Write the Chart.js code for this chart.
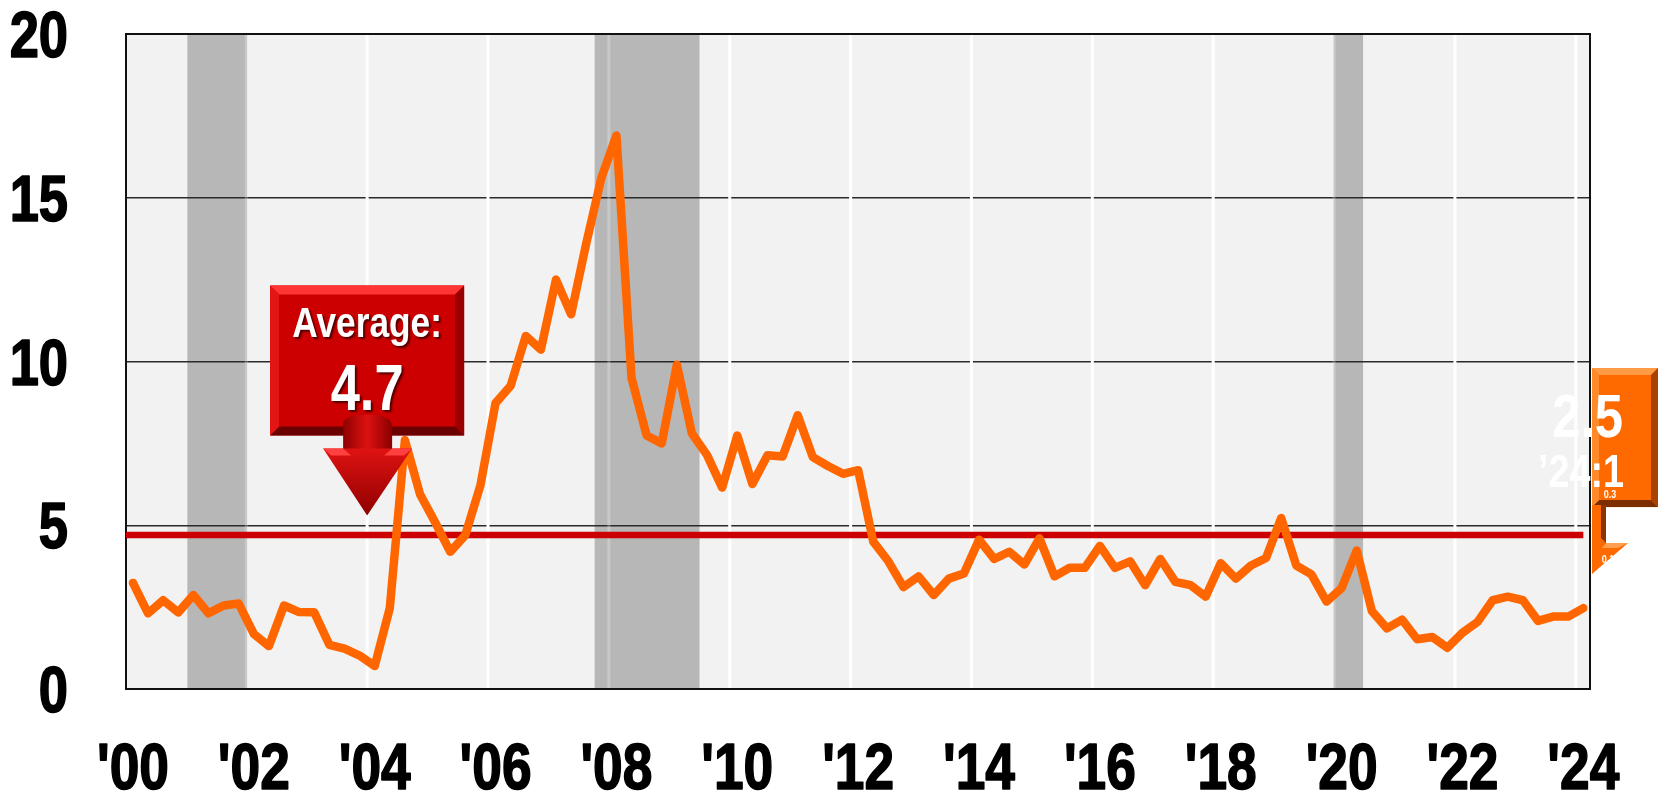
<!DOCTYPE html>
<html>
<head>
<meta charset="utf-8">
<script src="https://cdn.jsdelivr.net/npm/chart.js@4.4.1/dist/chart.umd.min.js"></script>
<style>
  html, body { margin: 0; padding: 0; background: #fff; }
  #wrap { width: 1658px; height: 798px; }
</style>
</head>
<body>
<div id="wrap"><canvas id="chart" width="1658" height="798"></canvas></div>
<script>
// quarterly values, 2000:1 .. 2024:1
const startYear = 2000;
const values = [
  3.24, 2.31, 2.71, 2.34, 2.87, 2.31, 2.55, 2.61,
  1.68, 1.31, 2.55, 2.35, 2.34, 1.35, 1.23, 1.02,
  0.70, 2.47, 7.60, 5.95, 5.09, 4.19, 4.70, 6.22,
  8.73, 9.26, 10.78, 10.36, 12.50, 11.44, 13.60, 15.60,
  16.90, 9.50, 7.74, 7.50, 9.90, 7.80, 7.14, 6.15,
  7.74, 6.26, 7.14, 7.10, 8.36, 7.08, 6.81, 6.57,
  6.68, 4.50, 3.90, 3.11, 3.44, 2.87, 3.37, 3.53,
  4.56, 3.97, 4.19, 3.80, 4.60, 3.44, 3.70, 3.70,
  4.37, 3.70, 3.90, 3.17, 3.97, 3.27, 3.17, 2.82,
  3.84, 3.37, 3.77, 4.00, 5.22, 3.77, 3.50, 2.67,
  3.08, 4.23, 2.38, 1.85, 2.12, 1.52, 1.59, 1.26,
  1.72, 2.05, 2.71, 2.82, 2.71, 2.08, 2.21, 2.21,
  2.47
];
const average = 4.7;
const xTickYears = [2000, 2002, 2004, 2006, 2008, 2010, 2012, 2014, 2016, 2018, 2020, 2022, 2024];
const yTicks = [0, 5, 10, 15, 20];
const recessions = [[2000.90, 2001.89], [2007.64, 2009.375], [2019.865, 2020.355]];
const lastLabel = "\u201924:1";
const lastChange = "0.3";
const lastChange2 = "0.1";

// no Arial Narrow here, so squeeze Liberation Sans Bold horizontally
const FONT = "'Liberation Sans', Arial, sans-serif";
const SQUEEZE = 0.82;
const xMin = 1999.885, xMax = 2024.11;

const points = values.map((v, i) => ({ x: startYear + i / 4, y: v }));
const lastX = startYear + (values.length - 1) / 4;
const yearLabel = v => "'" + String(Math.round(v) % 100).padStart(2, '0');

function poly(ctx, pts, fill) {
  ctx.beginPath();
  ctx.moveTo(pts[0][0], pts[0][1]);
  for (let i = 1; i < pts.length; i++) ctx.lineTo(pts[i][0], pts[i][1]);
  ctx.closePath();
  ctx.fillStyle = fill;
  ctx.fill();
}

function bevelRect(ctx, x, y, w, h, b, c) {
  ctx.fillStyle = c.face;
  ctx.fillRect(x, y, w, h);
  poly(ctx, [[x, y], [x + w, y], [x + w - b, y + b], [x + b, y + b]], c.top);
  poly(ctx, [[x, y + h], [x + w, y + h], [x + w - b, y + h - b], [x + b, y + h - b]], c.bottom);
  poly(ctx, [[x, y], [x + b, y + b], [x + b, y + h - b], [x, y + h]], c.left);
  poly(ctx, [[x + w, y], [x + w - b, y + b], [x + w - b, y + h - b], [x + w, y + h]], c.right);
}

function squeezed(ctx, text, x, y, size, align, heavy) {
  ctx.save();
  ctx.translate(x, y);
  ctx.scale(SQUEEZE, 1);
  ctx.font = 'bold ' + size + 'px ' + FONT;
  ctx.textAlign = align;
  ctx.textBaseline = 'alphabetic';
  ctx.fillText(text, 0, 0);
  if (heavy) {
    ctx.shadowColor = 'transparent';
    ctx.strokeStyle = ctx.fillStyle;
    ctx.lineWidth = heavy;
    ctx.lineJoin = 'round';
    ctx.strokeText(text, 0, 0);
  }
  ctx.restore();
}

const backdrop = {
  id: 'backdrop',
  beforeDraw(chart) {
    const { ctx, chartArea: a, scales: { x } } = chart;
    ctx.save();
    ctx.fillStyle = '#ffffff';
    ctx.fillRect(0, 0, chart.width, chart.height);
    ctx.fillStyle = '#f2f2f2';
    ctx.fillRect(a.left, a.top, a.right - a.left, a.bottom - a.top);
    ctx.fillStyle = '#b7b7b7';
    recessions.forEach(([s, e]) => {
      const x0 = x.getPixelForValue(s), x1 = x.getPixelForValue(e);
      ctx.fillRect(x0, a.top, x1 - x0, a.bottom - a.top);
    });
    ctx.restore();
  },
  beforeDatasetsDraw(chart) {
    const { ctx, chartArea: a, scales: { x } } = chart;
    ctx.save();
    ctx.lineWidth = 3;
    xTickYears.forEach(yr => {
      const g = yr - 0.125;
      if (g <= xMin) return;
      const inBand = recessions.some(([s, e]) => g > s && g < e);
      ctx.strokeStyle = inBand ? 'rgba(255,255,255,0.25)' : '#ffffff';
      const px = x.getPixelForValue(g);
      ctx.beginPath();
      ctx.moveTo(px, a.top);
      ctx.lineTo(px, a.bottom);
      ctx.stroke();
    });
    ctx.strokeStyle = '#111';
    ctx.lineWidth = 2;
    ctx.strokeRect(a.left, a.top, a.right - a.left, a.bottom - a.top);
    ctx.restore();
  },
  afterDatasetsDraw(chart) {
    const { ctx, chartArea: a, scales: { x, y } } = chart;
    ctx.save();

    // tick labels
    ctx.fillStyle = '#000';
    xTickYears.forEach(v => {
      squeezed(ctx, yearLabel(v), x.getPixelForValue(v), a.bottom + 100, 65, 'center', 1.6);
    });
    yTicks.forEach(v => {
      squeezed(ctx, String(v), a.left - 58, y.getPixelForValue(v) + 23, 64, 'right', 1.6);
    });

    // average callout
    const tx = x.getPixelForValue(2003.875);
    const ty = y.getPixelForValue(5.3);
    const bw = 194, bh = 150;
    const bx = tx - bw / 2, by = ty - 230;
    bevelRect(ctx, bx, by, bw, bh, 9, {
      face: '#cc0000', top: '#ff3535', bottom: '#6a0000', left: '#e41515', right: '#9a0000'
    });
    let g = ctx.createLinearGradient(tx - 25, 0, tx + 25, 0);
    g.addColorStop(0, '#8a0000'); g.addColorStop(0.5, '#dd1111'); g.addColorStop(1, '#8a0000');
    ctx.fillStyle = g;
    ctx.beginPath();
    ctx.ellipse(tx, ty - 92, 24, 9, 0, 0, Math.PI * 2);
    ctx.fill();
    ctx.fillRect(tx - 24, ty - 92, 49, 28);
    g = ctx.createLinearGradient(0, ty - 67, 0, ty);
    g.addColorStop(0, '#e01212'); g.addColorStop(1, '#8e0000');
    poly(ctx, [[tx - 44, ty - 67], [tx + 45, ty - 67], [tx, ty]], g);
    poly(ctx, [[tx - 44, ty - 67], [tx - 24, ty - 67], [tx - 16, ty - 60], [tx - 36, ty - 60]], '#ff4040');
    poly(ctx, [[tx + 45, ty - 67], [tx + 25, ty - 67], [tx + 17, ty - 60], [tx + 37, ty - 60]], '#ff4040');

    ctx.shadowColor = 'rgba(0,0,0,0.6)';
    ctx.shadowOffsetX = 2; ctx.shadowOffsetY = 2; ctx.shadowBlur = 2;
    ctx.fillStyle = '#ffffff';
    squeezed(ctx, 'Average:', tx, by + 52, 43, 'center');
    squeezed(ctx, average.toFixed(1), tx, by + 125, 64, 'center');
    ctx.shadowColor = 'transparent';

    // latest value callout
    const lx = a.right + 2;
    const ly = y.getPixelForValue(values[values.length - 1]);
    const top = ly - 240;
    bevelRect(ctx, lx, top, 66, 139, 7, {
      face: '#ff6a00', top: '#ff9a45', bottom: '#7d2e00', left: '#ff8a2a', right: '#a94200'
    });
    poly(ctx, [[lx, top + 137], [lx + 14, top + 137], [lx + 14, top + 175], [lx + 36, top + 175], [lx, top + 206]], '#ff6a00');
    poly(ctx, [[lx + 9, top + 137], [lx + 14, top + 137], [lx + 14, top + 175], [lx + 9, top + 170]], '#8a3500');
    poly(ctx, [[lx + 14, top + 175], [lx + 36, top + 175], [lx + 26, top + 180], [lx + 10, top + 180]], '#ffa050');

    ctx.fillStyle = '#ffffff';
    squeezed(ctx, values[values.length - 1].toFixed(1), lx + 31, top + 69, 62, 'right');
    squeezed(ctx, lastLabel, lx + 32, top + 119, 46, 'right');
    squeezed(ctx, lastChange, lx + 18, top + 130, 11, 'center');
    squeezed(ctx, lastChange2, lx + 16, top + 195, 11, 'center');
    ctx.restore();
  }
};

new Chart(document.getElementById('chart'), {
  type: 'line',
  data: {
    datasets: [
      {
        data: points,
        borderColor: '#ff6600',
        borderWidth: 8.5,
        borderJoinStyle: 'round',
        borderCapStyle: 'round',
        pointRadius: 0,
        tension: 0,
        clip: false
      },
      {
        data: [{ x: xMin, y: average }, { x: lastX, y: average }],
        borderColor: '#cc0000',
        borderWidth: 6.5,
        pointRadius: 0,
        tension: 0
      }
    ]
  },
  options: {
    responsive: false,
    devicePixelRatio: 1,
    animation: false,
    layout: { padding: { left: 0, top: 34, right: 68, bottom: 0 } },
    plugins: { legend: { display: false }, tooltip: { enabled: false } },
    scales: {
      x: {
        type: 'linear',
        min: xMin,
        max: xMax,
        afterBuildTicks: s => { s.ticks = xTickYears.map(v => ({ value: v })); },
        afterFit: s => { s.height = 109; },
        grid: { display: false, drawTicks: false },
        border: { display: false },
        ticks: { display: false }
      },
      y: {
        min: 0,
        max: 20,
        afterBuildTicks: s => { s.ticks = yTicks.map(v => ({ value: v })); },
        afterFit: s => { s.width = 126; },
        grid: {
          drawTicks: false,
          color: c => (c.tick.value > 0 && c.tick.value < 20) ? '#2a2a2a' : 'rgba(0,0,0,0)',
          lineWidth: 1.5
        },
        border: { display: false },
        ticks: { display: false }
      }
    }
  },
  plugins: [backdrop]
});
</script>
</body>
</html>
